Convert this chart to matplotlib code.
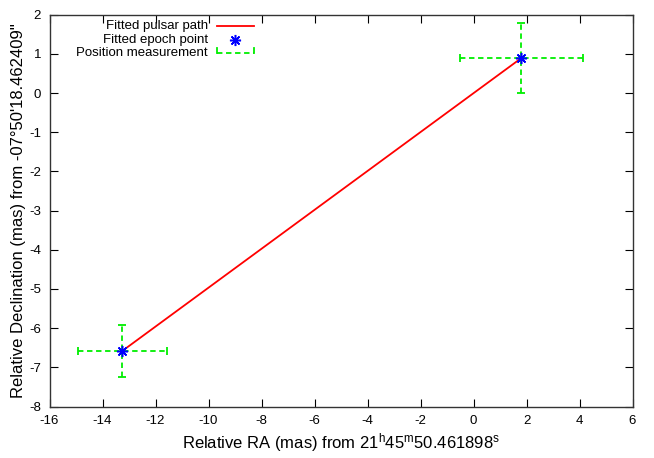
import matplotlib
matplotlib.use("Agg")
import matplotlib.pyplot as plt
from matplotlib.lines import Line2D

plt.rcParams['font.family'] = ['Liberation Sans', 'DejaVu Sans']
plt.rcParams['mathtext.fontset'] = 'custom'
plt.rcParams['mathtext.rm'] = 'Liberation Sans'
plt.rcParams['mathtext.it'] = 'Liberation Sans'
plt.rcParams['axes.unicode_minus'] = False

# Data
epoch_ra = [-13.25, 1.80]
epoch_dec = [-6.58, 0.89]
meas_ra = [-13.25, 1.80]
meas_dec = [-6.58, 0.89]
meas_ra_err = [1.68, 2.32]
meas_dec_err = [0.66, 0.89]
path_ra = [-13.25, 1.80]
path_dec = [-6.58, 0.89]
xticks = list(range(-16, 7, 2))
yticks = list(range(-8, 3, 1))

RED = '#ff0000'
BLUE = '#0000ff'
GREEN = '#00ee00'

fig = plt.figure(figsize=(6.54, 4.58), dpi=100)
ax = fig.add_axes([0.0757, 0.1124, 0.8915, 0.8556])

ax.plot(path_ra, path_dec, color=RED, lw=1.3, zorder=2)
eb = ax.errorbar(meas_ra, meas_dec, xerr=meas_ra_err, yerr=meas_dec_err,
                 fmt='none', ecolor=GREEN, elinewidth=1.3, capsize=3, capthick=1.3, zorder=1)
for lc in eb[2]:
    lc.set_linestyle((0, (3, 2)))
ax.plot(epoch_ra, epoch_dec, linestyle='none', marker=(8, 2, 0), markersize=8,
        markeredgecolor=BLUE, markeredgewidth=1.1, color=BLUE, zorder=3)

ax.set_xlim(-16, 6)
ax.set_ylim(-8, 2)
ax.set_xticks(xticks)
ax.set_yticks(yticks)
ax.tick_params(direction='in', length=6, width=0.8, top=True, right=True,
               labelsize=9.5, pad=6)
for s in ax.spines.values():
    s.set_linewidth(1.0)
    s.set_color('#333333')

ax.set_xlabel(r"Relative RA (mas) from 21$^{\rm h}$45$^{\rm m}$50.461898$^{\rm s}$",
              fontsize=12, labelpad=3)
ax.set_ylabel("Relative Declination (mas) from -07\u00b050'18.462409\"", fontsize=12, labelpad=2)

# Legend (gnuplot style: right-aligned text, sample on the right)
labels = ["Fitted pulsar path", "Fitted epoch point", "Position measurement"]
ys = [0.971, 0.936, 0.902]
tx = 0.272
x0, x1 = 0.287, 0.351
for lab, yy in zip(labels, ys):
    ax.text(tx, yy, lab, transform=ax.transAxes, ha='right', va='center', fontsize=9.5)
ax.add_line(Line2D([x0, x1], [ys[0]] * 2, transform=ax.transAxes, color=RED, lw=1.3))
ax.add_line(Line2D([(x0 + x1) / 2], [ys[1]], transform=ax.transAxes, marker=(8, 2, 0),
                   markersize=8, markeredgecolor=BLUE, markeredgewidth=1.1, linestyle='none'))
ax.add_line(Line2D([x0, x1], [ys[2]] * 2, transform=ax.transAxes, color=GREEN, lw=1.3,
                   linestyle=(0, (3, 2))))
for xx in (x0, x1):
    ax.add_line(Line2D([xx, xx], [ys[2], ys[2] + 0.012], transform=ax.transAxes,
                       color=GREEN, lw=1.3))

fig.savefig("out.png", dpi=100)
